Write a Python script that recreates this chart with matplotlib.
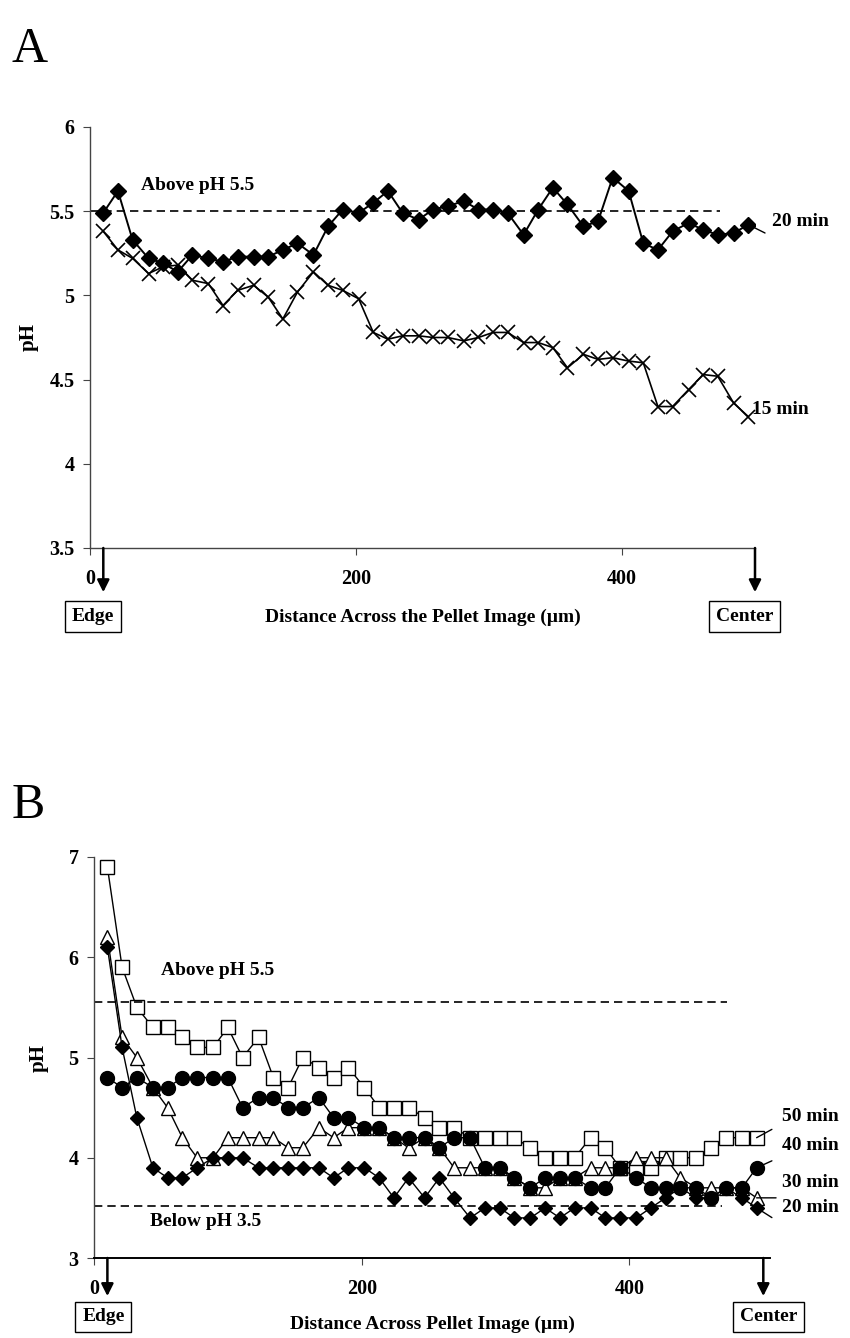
import matplotlib
matplotlib.use("Agg")
import matplotlib.pyplot as plt
import matplotlib.transforms as mtransforms

plt.rcParams['font.family'] = ['Liberation Serif', 'DejaVu Serif']
plt.rcParams['font.weight'] = 'bold'

# distance across the pellet (um), same sampling in both panels
distance = [10, 21, 32, 44, 55, 66, 77, 89, 100, 111, 123, 134, 145, 156, 168,
            179, 190, 202, 213, 224, 235, 247, 258, 269, 281, 292, 303, 314,
            326, 337, 348, 359, 371, 382, 393, 405, 416, 427, 438, 450, 461,
            472, 484, 495]

# Panel A
ph_a_20min = [5.49, 5.62, 5.33, 5.22, 5.19, 5.14, 5.24, 5.22, 5.20, 5.23, 5.23,
              5.23, 5.27, 5.31, 5.24, 5.41, 5.51, 5.49, 5.55, 5.62, 5.49, 5.45,
              5.51, 5.53, 5.56, 5.51, 5.51, 5.49, 5.36, 5.51, 5.64, 5.54, 5.41,
              5.44, 5.70, 5.62, 5.31, 5.27, 5.38, 5.43, 5.39, 5.36, 5.37, 5.42]
ph_a_15min = [5.38, 5.27, 5.22, 5.13, 5.17, 5.18, 5.09, 5.07, 4.94, 5.03, 5.06,
              4.99, 4.86, 5.02, 5.14, 5.06, 5.03, 4.98, 4.78, 4.74, 4.76, 4.76,
              4.75, 4.75, 4.73, 4.75, 4.78, 4.78, 4.72, 4.72, 4.69, 4.57, 4.65,
              4.62, 4.63, 4.61, 4.60, 4.34, 4.34, 4.44, 4.53, 4.52, 4.36, 4.28]

# Panel B
ph_b_50min = [6.9, 5.9, 5.5, 5.3, 5.3, 5.2, 5.1, 5.1, 5.3, 5.0, 5.2, 4.8, 4.7,
              5.0, 4.9, 4.8, 4.9, 4.7, 4.5, 4.5, 4.5, 4.4, 4.3, 4.3, 4.2, 4.2,
              4.2, 4.2, 4.1, 4.0, 4.0, 4.0, 4.2, 4.1, 3.9, 3.9, 3.9, 4.0, 4.0,
              4.0, 4.1, 4.2, 4.2, 4.2]
ph_b_40min = [6.2, 5.2, 5.0, 4.7, 4.5, 4.2, 4.0, 4.0, 4.2, 4.2, 4.2, 4.2, 4.1,
              4.1, 4.3, 4.2, 4.3, 4.3, 4.3, 4.2, 4.1, 4.2, 4.1, 3.9, 3.9, 3.9,
              3.9, 3.8, 3.7, 3.7, 3.8, 3.8, 3.9, 3.9, 3.9, 4.0, 4.0, 4.0, 3.8,
              3.7, 3.7, 3.7, 3.7, 3.6]
ph_b_30min = [4.8, 4.7, 4.8, 4.7, 4.7, 4.8, 4.8, 4.8, 4.8, 4.5, 4.6, 4.6, 4.5,
              4.5, 4.6, 4.4, 4.4, 4.3, 4.3, 4.2, 4.2, 4.2, 4.1, 4.2, 4.2, 3.9,
              3.9, 3.8, 3.7, 3.8, 3.8, 3.8, 3.7, 3.7, 3.9, 3.8, 3.7, 3.7, 3.7,
              3.7, 3.6, 3.7, 3.7, 3.9]
ph_b_20min = [6.1, 5.1, 4.4, 3.9, 3.8, 3.8, 3.9, 4.0, 4.0, 4.0, 3.9, 3.9, 3.9,
              3.9, 3.9, 3.8, 3.9, 3.9, 3.8, 3.6, 3.8, 3.6, 3.8, 3.6, 3.4, 3.5,
              3.5, 3.4, 3.4, 3.5, 3.4, 3.5, 3.5, 3.4, 3.4, 3.4, 3.5, 3.6, 3.7,
              3.6, 3.6, 3.7, 3.6, 3.5]

ticks_a = [3.5, 4, 4.5, 5, 5.5, 6]
ticklabels_a = ['3.5', '4', '4.5', '5', '5.5', '6']
ticks_b = [3, 4, 5, 6, 7]
xticks = [0, 200, 400]

W, H = 850, 1338
fig = plt.figure(figsize=(W / 100, H / 100), dpi=100)


def px_axes(left, top, right, bottom):
    return fig.add_axes([left / W, 1 - bottom / H, (right - left) / W, (bottom - top) / H])


def style_axes(ax):
    for s in ('top', 'right'):
        ax.spines[s].set_visible(False)
    for s in ('left', 'bottom'):
        ax.spines[s].set_color('#444444')
        ax.spines[s].set_linewidth(1.0)
    ax.tick_params(direction='out', length=5, width=0.8, color='#444444',
                   labelsize=14.5)
    ax.tick_params(axis='y', pad=6)
    ax.tick_params(axis='x', pad=10)
    for lab in ax.get_xticklabels() + ax.get_yticklabels():
        lab.set_fontweight('bold')


def edge_center(ax, x_edge, x_center, arrow_end, box_y, dx_edge, dx_center):
    trans = mtransforms.blended_transform_factory(ax.transData, ax.transAxes)
    box = dict(boxstyle='square,pad=0.35', fc='white', ec='black', lw=1.0)
    for x, dx, lab in ((x_edge, dx_edge, 'Edge'), (x_center, dx_center, 'Center')):
        ax.annotate('', xy=(x, arrow_end), xycoords=trans,
                    xytext=(x, 0.0), textcoords=trans, annotation_clip=False,
                    arrowprops=dict(arrowstyle='-|>', color='black', lw=1.8,
                                    mutation_scale=18, shrinkA=0, shrinkB=0))
        ax.text(x + dx, box_y, lab, transform=trans, ha='center', va='center',
                fontsize=14, fontweight='bold', bbox=box, clip_on=False)


def leader(ax, x, y, dx, dy, lw=1.0):
    ax.annotate('', xy=(x, y), xytext=(dx, dy), textcoords='offset points',
                arrowprops=dict(arrowstyle='-', color='black', lw=lw,
                                shrinkA=0, shrinkB=0))


# ---------- Panel A ----------
axA = px_axes(90, 127, 755, 548)
axA.plot(distance, ph_a_20min, color='black', lw=1.4, marker='D', ms=8.5,
         mfc='black', mec='black')
axA.plot(distance, ph_a_15min, color='black', lw=1.2, marker='x', ms=10,
         mew=1.2, mec='black')
axA.plot([0, 474], [5.5, 5.5], color='black', lw=1.2, ls=(0, (5, 3)))
axA.text(38, 5.65, 'Above pH 5.5', fontsize=14, fontweight='bold', va='center')
leader(axA, distance[-1], ph_a_20min[-1], 12, -6)
axA.text(513, 5.44, '20 min', fontsize=14, fontweight='bold', va='center')
axA.text(498, 4.32, '15 min', fontsize=14, fontweight='bold', va='center')
axA.set_xlim(0, 500)
axA.set_ylim(3.5, 6)
axA.set_yticks(ticks_a)
axA.set_yticklabels(ticklabels_a)
axA.set_xticks(xticks)
style_axes(axA)
axA.set_ylabel('pH', fontsize=15, fontweight='bold', labelpad=8)
axA.set_xlabel('Distance Across the Pellet Image (\u00b5m)', fontsize=14,
               fontweight='bold', labelpad=14)
edge_center(axA, distance[0], 500, -0.105, -0.162, -8, -8)
fig.text(12 / W, 1 - 50 / H, 'A', fontsize=36, fontweight='normal', va='center')

# ---------- Panel B ----------
axB = px_axes(94, 857, 770, 1258)
axB.plot(distance, ph_b_50min, color='black', lw=1.0, marker='s', ms=10,
         mfc='white', mec='black', mew=1.0)
axB.plot(distance, ph_b_40min, color='black', lw=1.0, marker='^', ms=10,
         mfc='white', mec='black', mew=1.0)
axB.plot(distance, ph_b_30min, color='black', lw=1.0, marker='o', ms=10,
         mfc='black', mec='black')
axB.plot(distance, ph_b_20min, color='black', lw=1.0, marker='D', ms=7,
         mfc='black', mec='black')
axB.plot([0, 473], [5.55, 5.55], color='black', lw=1.2, ls=(0, (5, 3)))
axB.plot([0, 469], [3.52, 3.52], color='black', lw=1.2, ls=(0, (5, 3)))
axB.text(50, 5.87, 'Above pH 5.5', fontsize=14, fontweight='bold', va='center')
axB.text(42, 3.36, 'Below pH 3.5', fontsize=14, fontweight='bold', va='center')
leader(axB, distance[-1], ph_b_50min[-1], 11, 6)
leader(axB, distance[-1], ph_b_30min[-1], 11, 5)
leader(axB, distance[-1], ph_b_40min[-1], 14, 0)
leader(axB, distance[-1], ph_b_20min[-1], 11, -7)
for lab, yv in (('50 min', 4.41), ('40 min', 4.12), ('30 min', 3.75), ('20 min', 3.50)):
    axB.text(514, yv, lab, fontsize=14, fontweight='bold', va='center')
axB.set_xlim(0, 505)
axB.set_ylim(3, 7)
axB.set_yticks(ticks_b)
axB.set_xticks(xticks)
style_axes(axB)
axB.spines['bottom'].set_color('black')
axB.spines['bottom'].set_linewidth(1.4)
axB.set_ylabel('pH', fontsize=15, fontweight='bold', labelpad=14)
axB.set_xlabel('Distance Across Pellet Image (\u00b5m)', fontsize=14,
               fontweight='bold', labelpad=12)
edge_center(axB, distance[0], 500, -0.095, -0.147, -3, 4)
fig.text(12 / W, 1 - 806 / H, 'B', fontsize=36, fontweight='normal', va='center')

fig.savefig('out.png', dpi=100, facecolor='white')
